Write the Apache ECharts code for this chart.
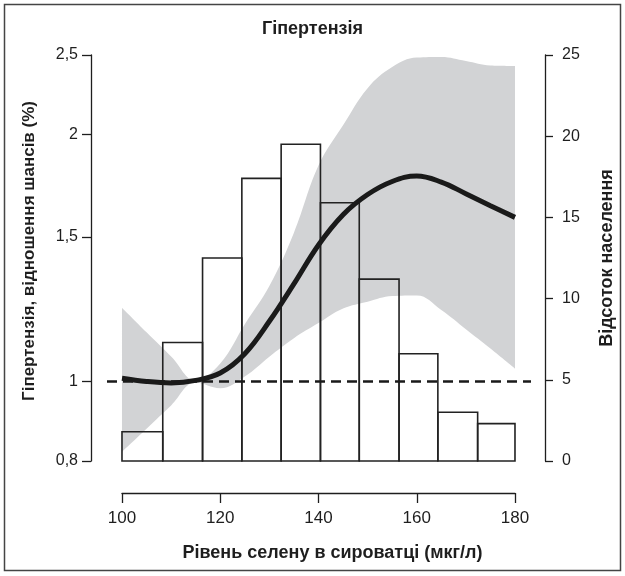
<!DOCTYPE html>
<html>
<head>
<meta charset="utf-8">
<script src="https://cdn.jsdelivr.net/npm/echarts@6/dist/echarts.min.js"></script>
<style>
  html, body { margin: 0; padding: 0; background: #fff; }
  #chart { width: 625px; height: 576px; }
</style>
</head>
<body>
<div id="chart"></div>
<script>
// гістограма: межі інтервалів (мкг/л) і відсоток населення
const binEdges = [100, 108.3, 116.4, 124.4, 132.4, 140.4, 148.3, 156.4, 164.3, 172.4, 180];
const popShare = [1.8, 7.3, 12.5, 17.4, 19.5, 15.9, 11.2, 6.6, 3.0, 2.3];

// крива відношення шансів та довірчий інтервал
const selenium = [100, 105, 110, 115, 120, 125, 130, 135, 140, 145, 150, 155, 160, 165, 170, 175, 180];
const oddsRatio = [1.009, 1.000, 0.996, 1.003, 1.024, 1.081, 1.184, 1.315, 1.467, 1.597, 1.690, 1.753, 1.780, 1.750, 1.694, 1.638, 1.585];
const ciLower = [0.821, 0.876, 0.935, 0.997, 0.981, 1.014, 1.072, 1.129, 1.178, 1.227, 1.251, 1.271, 1.273, 1.222, 1.158, 1.097, 1.037];
const ciUpper = [1.230, 1.148, 1.073, 1.003, 1.052, 1.174, 1.307, 1.518, 1.833, 2.052, 2.278, 2.417, 2.482, 2.486, 2.458, 2.427, 2.424];

const orTicks = [0.8, 1, 1.5, 2, 2.5];

const FONT = "'Liberation Sans', Arial, sans-serif";
const INK = '#1e1e1e';

const chart = echarts.init(document.getElementById('chart'));

const option = {
    animation: false,
    textStyle: { fontFamily: FONT, color: INK },
    title: {
        text: 'Гіпертензія',
        left: 'center',
        top: 15,
        textStyle: { fontFamily: FONT, fontSize: 18, fontWeight: 'bold', color: INK }
    },
    graphic: [{
        type: 'rect',
        shape: { x: 4.5, y: 4.5, width: 616, height: 566 },
        style: { fill: 'none', stroke: '#444', lineWidth: 1.5 },
        silent: true
    }],
    grid: [
        { left: 107, right: 94, top: 55, bottom: 115 },
        { left: 122, width: 393, top: 492, height: 1 }
    ],
    xAxis: [
        { gridIndex: 0, type: 'value', min: 96.95, max: 183.26, show: false },
        {
            gridIndex: 1, type: 'value', min: 100, max: 180, interval: 20,
            axisLine: { lineStyle: { color: INK, width: 1.3 } },
            axisTick: { length: 10, lineStyle: { color: INK, width: 1.3 } },
            axisLabel: { fontSize: 17, color: INK, margin: 17, fontFamily: FONT },
            splitLine: { show: false },
            name: 'Рівень селену в сироватці (мкг/л)',
            nameLocation: 'middle',
            nameGap: 51,
            nameTextStyle: { fontSize: 18, fontWeight: 'bold', color: INK, fontFamily: FONT, padding: [0, 0, 0, 28] }
        }
    ],
    yAxis: [
        {
            gridIndex: 0, type: 'log', logBase: 10, min: 0.8, max: 2.5, position: 'left', offset: 16,
            axisLine: { show: true, lineStyle: { color: INK, width: 1.3 } },
            axisTick: { show: true, length: 9, customValues: orTicks, lineStyle: { color: INK, width: 1.3 } },
            axisLabel: {
                fontSize: 16, color: INK, margin: 13, fontFamily: FONT, customValues: orTicks,
                formatter: v => String(Math.round(v * 10) / 10).replace('.', ',')
            },
            splitLine: { show: false },
            minorTick: { show: false },
            name: 'Гіпертензія, відношення шансів (%)',
            nameLocation: 'middle',
            nameGap: 53,
            nameRotate: 90,
            nameTextStyle: { fontSize: 17, fontWeight: 'bold', color: INK, fontFamily: FONT, padding: [0, 0, 0, 14] }
        },
        {
            gridIndex: 0, type: 'value', min: 0, max: 25, interval: 5, position: 'right', offset: 14,
            axisLine: { show: true, lineStyle: { color: INK, width: 1.3 } },
            axisTick: { show: true, length: 8, lineStyle: { color: INK, width: 1.3 } },
            axisLabel: { fontSize: 16, color: INK, margin: 17, fontFamily: FONT },
            splitLine: { show: false },
            name: 'Відсоток населення',
            nameLocation: 'middle',
            nameGap: 53,
            nameRotate: 90,
            nameTextStyle: { fontSize: 18, fontWeight: 'bold', color: INK, fontFamily: FONT }
        },
        { gridIndex: 1, type: 'value', show: false }
    ],
    series: [
        {
            // сіра смуга: заливка під верхньою межею інтервалу
            name: 'ci-upper',
            type: 'line',
            xAxisIndex: 0, yAxisIndex: 0,
            smooth: 0.4,
            symbol: 'none',
            lineStyle: { width: 0, opacity: 0 },
            areaStyle: { color: '#d2d3d5', opacity: 1, origin: 'start' },
            data: selenium.map((x, i) => [x, ciUpper[i]]),
            z: 1
        },
        {
            // біла заливка під нижньою межею прибирає зайве
            name: 'ci-lower',
            type: 'line',
            xAxisIndex: 0, yAxisIndex: 0,
            smooth: 0.4,
            symbol: 'none',
            lineStyle: { width: 0, opacity: 0 },
            areaStyle: { color: '#ffffff', opacity: 1, origin: 'start' },
            data: selenium.map((x, i) => [x, ciLower[i]]),
            z: 2
        },
        {
            name: 'population',
            type: 'custom',
            xAxisIndex: 0, yAxisIndex: 1,
            encode: { x: [0, 1], y: 2 },
            renderItem: (params, api) => {
                const topLeft = api.coord([api.value(0), api.value(2)]);
                const bottomRight = api.coord([api.value(1), 0]);
                return {
                    type: 'rect',
                    shape: {
                        x: topLeft[0], y: topLeft[1],
                        width: bottomRight[0] - topLeft[0],
                        height: bottomRight[1] - topLeft[1]
                    },
                    style: { fill: 'none', stroke: '#222', lineWidth: 1.6 }
                };
            },
            data: popShare.map((v, i) => [binEdges[i], binEdges[i + 1], v]),
            z: 3
        },
        {
            name: 'odds',
            type: 'line',
            xAxisIndex: 0, yAxisIndex: 0,
            smooth: 0.4,
            symbol: 'none',
            lineStyle: { color: '#1a1a1a', width: 5 },
            data: selenium.map((x, i) => [x, oddsRatio[i]]),
            markLine: {
                silent: true,
                symbol: 'none',
                label: { show: false },
                lineStyle: { color: '#1a1a1a', width: 2.5, type: [10, 6] },
                data: [{ yAxis: 1 }]
            },
            z: 4
        }
    ]
};

chart.setOption(option);
</script>
</body>
</html>
